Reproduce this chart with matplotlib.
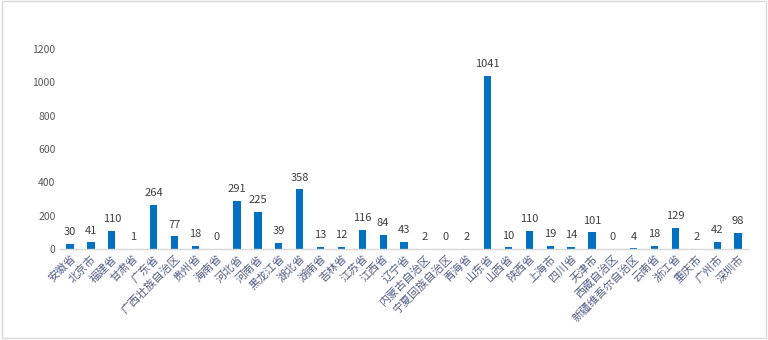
import matplotlib
matplotlib.use("Agg")
import matplotlib.pyplot as plt
from matplotlib.patches import Rectangle

plt.rcParams['font.family'] = ['Noto Sans CJK SC', 'DejaVu Sans']

categories = ["安徽省", "北京市", "福建省", "甘肃省", "广东省", "广西壮族自治区", "贵州省", "海南省",
              "河北省", "河南省", "黑龙江省", "湖北省", "湖南省", "吉林省", "江苏省", "江西省",
              "辽宁省", "内蒙古自治区", "宁夏回族自治区", "青海省", "山东省", "山西省", "陕西省",
              "上海市", "四川省", "天津市", "西藏自治区", "新疆维吾尔自治区", "云南省", "浙江省",
              "重庆市", "广州市", "深圳市"]
values = [30, 41, 110, 1, 264, 77, 18, 0, 291, 225, 39, 358, 13, 12, 116, 84,
          43, 2, 0, 2, 1041, 10, 110, 19, 14, 101, 0, 4, 18, 129, 2, 42, 98]
yticks = [0, 200, 400, 600, 800, 1000, 1200]

fig = plt.figure(figsize=(7.68, 3.4), dpi=100)
ax = fig.add_axes([0.0776, 0.2676, 0.897, 0.588])

x = list(range(len(categories)))
ax.bar(x, values, width=0.35, color="#0070C0", zorder=2)
for xi, v in zip(x, values):
    ax.text(xi, v + 40, str(v), ha="center", va="bottom", fontsize=8, color="#404040")

ax.set_xlim(-0.5, len(categories) - 0.5)
ax.set_ylim(0, 1200)
ax.set_yticks(yticks)
ax.set_yticklabels([str(t) for t in yticks], fontsize=7.5, color="#595959")
ax.set_xticks(x)
ax.set_xticklabels(categories, rotation=45, ha="right", va="top", rotation_mode="anchor",
                   fontsize=8, color="#56608a")
ax.tick_params(axis="both", length=0, pad=3)
for s in ["top", "right", "left"]:
    ax.spines[s].set_visible(False)
ax.spines["bottom"].set_color("#d9d9d9")
ax.spines["bottom"].set_linewidth(1.0)

fig.patches.append(Rectangle((0.003, 0.006), 0.994, 0.99, transform=fig.transFigure,
                             fill=False, edgecolor="#d9d9d9", linewidth=1.0))

fig.savefig("out.png", dpi=100)
